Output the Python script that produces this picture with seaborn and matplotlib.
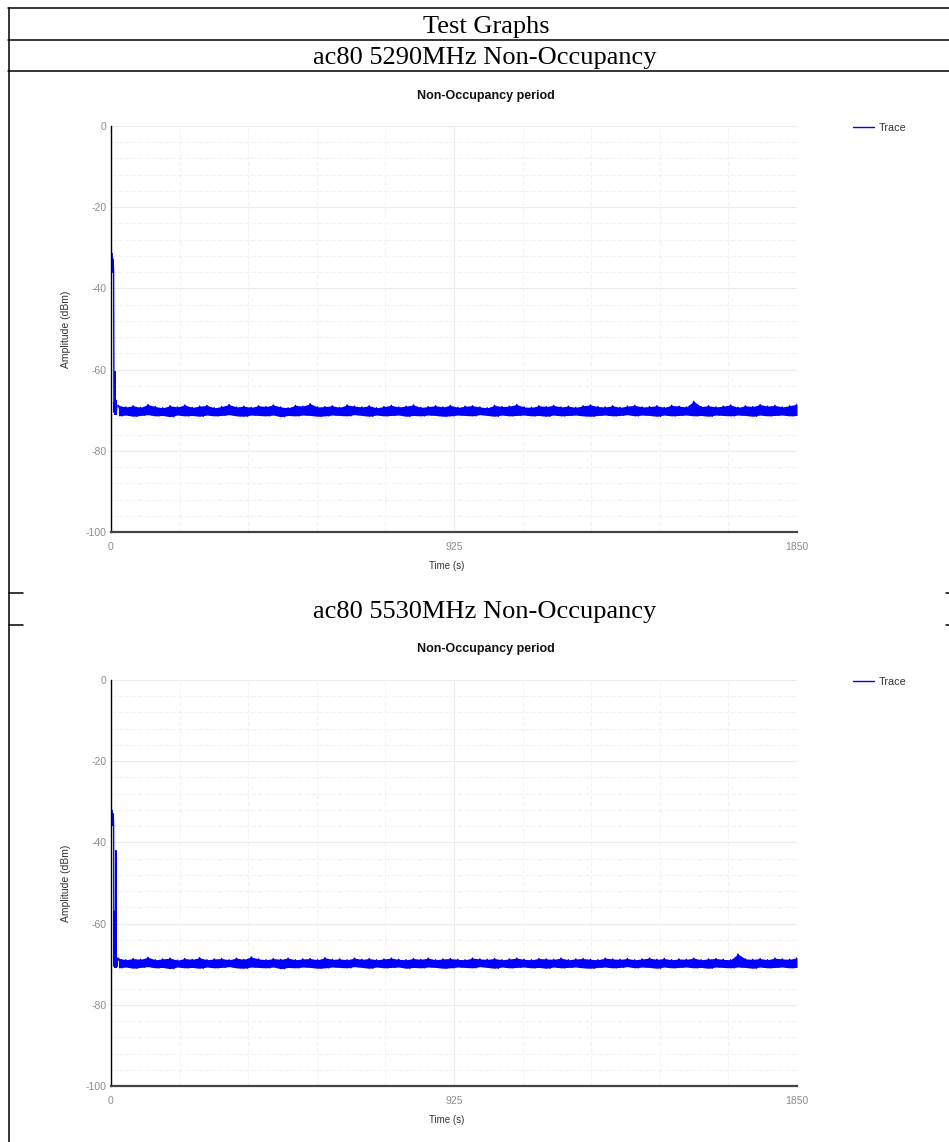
import numpy as np
import pandas as pd
import matplotlib
matplotlib.use("Agg")
import matplotlib.pyplot as plt
from matplotlib.lines import Line2D
from matplotlib.ticker import MultipleLocator, FixedLocator
import seaborn as sns

# ---------------- data ----------------
headers = ["Test Graphs", "ac80 5290MHz Non-Occupancy", "ac80 5530MHz Non-Occupancy"]
chart_title = "Non-Occupancy period"
x_label = "Time (s)"
y_label = "Amplitude (dBm)"
legend_label = "Trace"
x_ticks = [0, 925, 1850]
y_ticks = [0, -20, -40, -60, -80, -100]

# chart 1 (5290 MHz): start of trace
spike1_t = [0, 1, 2, 3, 4, 5, 6, 7, 8, 9, 10, 11, 12, 13, 14, 16]
spike1_v = [-32, -36.5, -31.3, -36, -32.5, -35.5, -33, -36, -70.5, -68, -71, -60.5, -71, -67.5, -71, -69]
# chart 1: noise envelope from 20 s to 1850 s
upper1 = [-68.8, -69.2, -68.9, -69.3, -68.6, -69.1, -69.4, -68.9, -69.2, -68.7,
          -69.3, -69.0, -68.8, -69.4, -69.1, -68.6, -69.2, -69.0, -69.3, -68.9,
          -69.1, -68.7, -69.2, -69.4, -68.8, -69.0, -68.4, -69.2, -69.1, -68.9,
          -69.3, -68.7, -69.0, -69.2, -68.9, -69.4, -69.1, -68.8, -69.2, -69.0,
          -68.7, -69.3, -69.1, -68.9, -69.2, -68.8, -69.3, -69.0, -68.9, -69.2,
          -69.4, -68.8, -69.1, -69.0, -68.6, -69.2, -69.3, -68.9, -69.1, -68.8,
          -69.2, -69.0, -69.3, -68.9, -68.7, -69.1, -69.2, -68.9, -69.3, -69.0,
          -68.8, -69.2, -69.1, -68.9, -69.3, -68.8, -69.0, -69.2, -67.8, -69.1,
          -68.9, -69.2, -69.0, -68.7, -69.3, -68.9, -69.1, -68.6, -69.0, -68.8,
          -69.2, -68.9, -68.5]
lower1 = [-71.4, -71.2, -71.5, -71.3, -71.1, -71.4, -71.3, -71.6, -71.2, -71.4,
          -71.3, -71.5, -71.2, -71.4, -71.3, -71.1, -71.4, -71.5, -71.2, -71.3,
          -71.4, -71.2, -71.6, -71.3, -71.4, -71.2, -71.3, -71.5, -71.4, -71.2,
          -71.3, -71.4, -71.1, -71.3, -71.5, -71.2, -71.4, -71.3, -71.2, -71.5,
          -71.3, -71.4, -71.2, -71.3, -71.5, -71.4, -71.2, -71.3, -71.4, -71.1,
          -71.3, -71.5, -71.2, -71.4, -71.3, -71.2, -71.4, -71.3, -71.5, -71.2,
          -71.4, -71.3, -71.2, -71.4, -71.5, -71.3, -71.2, -71.4, -71.3, -71.1,
          -71.4, -71.2, -71.3, -71.5, -71.2, -71.4, -71.3, -71.2, -71.4, -71.3,
          -71.5, -71.2, -71.3, -71.4, -71.2, -71.3, -71.5, -71.2, -71.4, -71.3,
          -71.2, -71.4, -71.3]

# chart 2 (5530 MHz): start of trace
spike2_t = [0, 1, 2, 3, 4, 5, 6, 7, 8, 9, 10, 11, 12, 13, 14, 15, 16, 18]
spike2_v = [-32.5, -35.5, -32.0, -35.8, -32.8, -35.0, -33.0, -35.5, -70.5, -57, -70.8, -68.5,
            -70.5, -42, -70.8, -68.3, -70.6, -68.8]
upper2 = [-68.5, -68.9, -68.6, -68.8, -68.3, -68.9, -68.7, -68.5, -69.0, -68.6,
          -68.8, -68.4, -68.9, -68.7, -68.6, -68.9, -68.5, -68.8, -68.2, -68.7,
          -68.9, -68.6, -68.8, -68.5, -68.9, -68.7, -68.6, -68.9, -68.4, -68.8,
          -68.7, -68.9, -68.5, -68.8, -68.6, -68.9, -68.7, -68.5, -68.8, -68.9,
          -68.6, -68.8, -68.5, -68.9, -68.7, -68.6, -68.8, -68.9, -68.5, -68.7,
          -68.8, -68.6, -68.9, -68.7, -68.5, -68.8, -68.9, -68.6, -68.7, -68.8,
          -68.5, -68.9, -68.7, -68.6, -68.8, -68.9, -68.5, -68.7, -68.8, -68.6,
          -68.9, -68.7, -68.5, -68.8, -68.6, -68.9, -68.7, -68.8, -68.5, -68.9,
          -68.7, -68.6, -68.8, -68.9, -67.5, -68.7, -68.8, -68.6, -68.9, -68.5,
          -68.7, -68.8, -68.4]
lower2 = [-70.9, -70.7, -71.0, -70.8, -70.6, -70.9, -70.8, -71.1, -70.7, -70.9,
          -70.8, -71.0, -70.7, -70.9, -70.8, -70.6, -70.9, -71.0, -70.7, -70.8,
          -70.9, -70.7, -71.1, -70.8, -70.9, -70.7, -70.8, -71.0, -70.9, -70.7,
          -70.8, -70.9, -70.6, -70.8, -71.0, -70.7, -70.9, -70.8, -70.7, -71.0,
          -70.8, -70.9, -70.7, -70.8, -71.0, -70.9, -70.7, -70.8, -70.9, -70.6,
          -70.8, -71.0, -70.7, -70.9, -70.8, -70.7, -70.9, -70.8, -71.0, -70.7,
          -70.9, -70.8, -70.7, -70.9, -71.0, -70.8, -70.7, -70.9, -70.8, -70.6,
          -70.9, -70.7, -70.8, -71.0, -70.7, -70.9, -70.8, -70.7, -70.9, -70.8,
          -71.0, -70.7, -70.8, -70.9, -70.7, -70.8, -71.0, -70.7, -70.9, -70.8,
          -70.7, -70.9, -70.8]

band_start, band_end = 20, 1850

# ---------------- style ----------------
sns.set_theme(style="white")
plt.rcParams["font.family"] = ["Liberation Sans", "DejaVu Sans"]
plt.rcParams["axes.unicode_minus"] = False

W, H = 949, 1142
fig = plt.figure(figsize=(W / 100, H / 100), dpi=100)


def fx(px):
    return px / W


def fy(py):
    return 1 - py / H


def hline(y, x0, x1):
    fig.add_artist(Line2D([fx(x0), fx(x1)], [fy(y), fy(y)], color="black", lw=1.1,
                          transform=fig.transFigure))


def vline(x, y0, y1):
    fig.add_artist(Line2D([fx(x), fx(x)], [fy(y0), fy(y1)], color="black", lw=1.1,
                          transform=fig.transFigure))


# table frame
hline(8, 8, 949)
hline(40, 8, 949)
hline(71, 8, 949)
vline(9, 8, 1142)
hline(593, 9, 23)
hline(625, 9, 23)
hline(593, 946, 949)
hline(625, 946, 949)

serif = ["Liberation Serif", "DejaVu Serif"]
fig.text(fx(486), fy(33), headers[0], ha="center", va="baseline", fontsize=19,
         family=serif, color="black")
fig.text(fx(485), fy(64), headers[1], ha="center", va="baseline", fontsize=19,
         family=serif, color="black")
fig.text(fx(485), fy(618), headers[2], ha="center", va="baseline", fontsize=19,
         family=serif, color="black")


def make_chart(top_px, spike_t, spike_v, upper, lower, title_y):
    left_px, right_px = 111, 797
    bottom_px = top_px + 406
    ax = fig.add_axes([fx(left_px), fy(bottom_px), fx(right_px - left_px),
                       (bottom_px - top_px) / H])
    band_t = np.linspace(band_start, band_end, len(upper))
    half = (band_t[1] - band_t[0]) / 2
    zig_t, zig_v = [], []
    for t, u, l in zip(band_t, upper, lower):
        zig_t += [t, min(t + half, band_end)]
        zig_v += [u, l]
    df = pd.DataFrame({"time": list(spike_t) + zig_t, "amp": list(spike_v) + zig_v})
    ax.fill_between(band_t, lower, upper, color="#0000ff", lw=0)
    sns.lineplot(data=df, x="time", y="amp", ax=ax, color="#0000ff", lw=1.0,
                 estimator=None, sort=False, label=legend_label)
    ax.set_xlim(0, 1850)
    ax.set_ylim(-100, 0)
    ax.xaxis.set_major_locator(FixedLocator(x_ticks))
    ax.xaxis.set_minor_locator(MultipleLocator(185))
    ax.yaxis.set_major_locator(FixedLocator(y_ticks))
    ax.yaxis.set_minor_locator(MultipleLocator(4))
    ax.grid(which="minor", color="#f2f2f2", lw=0.8, ls=(0, (4, 2)))
    ax.grid(which="major", color="#ececec", lw=0.8, ls="-")
    ax.set_axisbelow(True)
    ax.tick_params(axis="both", which="both", length=0, labelsize=7.5, colors="#8c8c8c")
    ax.tick_params(axis="x", pad=7)
    ax.tick_params(axis="y", pad=3)
    for s in ["top", "right"]:
        ax.spines[s].set_visible(False)
    ax.spines["left"].set_color("black")
    ax.spines["left"].set_linewidth(1.0)
    ax.spines["bottom"].set_color("#444444")
    ax.spines["bottom"].set_linewidth(1.6)
    ax.set_xlabel(x_label, fontsize=7, color="#333333")
    ax.set_ylabel(y_label, fontsize=7.5, color="#333333")
    ax.xaxis.set_label_coords((447 - 111) / 686, -34 / 406)
    ax.xaxis.label.set_va("center")
    ax.yaxis.set_label_coords(-45 / 686, 0.5)
    ax.yaxis.label.set_va("center")
    fig.text(fx(486), fy(title_y), chart_title, ha="center", va="center",
             fontsize=9, fontweight="bold", color="#111111")
    ax.legend(loc="center left", bbox_to_anchor=(fx(853), fy(top_px + 2)),
              bbox_transform=fig.transFigure, frameon=False, fontsize=7.8,
              handlelength=1.9, handletextpad=0.5, borderpad=0, borderaxespad=0,
              labelcolor="#333333")
    return ax


make_chart(126, spike1_t, spike1_v, upper1, lower1, 96)
make_chart(680, spike2_t, spike2_v, upper2, lower2, 649)

fig.savefig("out.png", dpi=100)
